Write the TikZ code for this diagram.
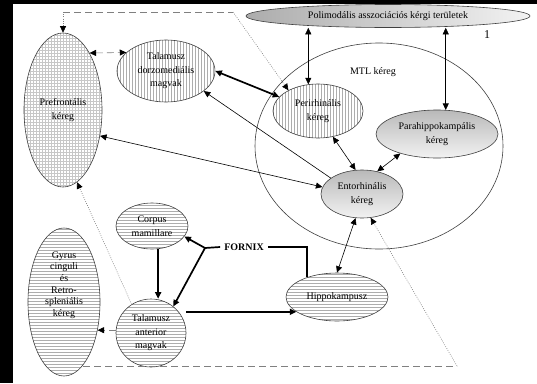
\documentclass[tikz,border=0pt]{standalone}
\usepackage{fontspec}
\setmainfont{Liberation Serif}
\usetikzlibrary{shapes.geometric,arrows.meta,patterns}

\tikzset{
  tip/.tip={Triangle[length=6.5pt,width=6pt,color=black,fill=black]},
  region/.style={ellipse, draw=black!75, line width=0.6pt, inner sep=0pt,
    align=center, font=\fontsize{10}{13.5}\selectfont},
  gridfill/.style={region, pattern=grid, pattern color=black!22},
  vfill/.style={region, pattern=vertical lines, pattern color=black!32},
  hfill/.style={region, pattern=horizontal lines, pattern color=black!32},
  greyfill/.style={region, top color=gray!55, bottom color=gray!10},
  polyfill/.style={region, left color=gray!65, right color=gray!10},
  thin link/.style={line width=0.6pt, black},
  thick link/.style={line width=1.7pt, black},
  dashline/.style={line width=0.6pt, black!50, dash pattern=on 7pt off 4pt},
  dotline/.style={line width=0.6pt, black!50, dash pattern=on 0.8pt off 1.4pt},
  plain/.style={font=\fontsize{10}{13.5}\selectfont, inner sep=0pt, align=center}
}

\begin{document}
\begin{tikzpicture}[x=1pt, y=-1pt]
% frame
\fill[black] (0,0) rectangle (537,383);
\fill[white] (13,4) rectangle (537,383);
\useasboundingbox (0,0) rectangle (537,383);

% medial temporal lobe outline
\node[ellipse, draw=black!75, line width=0.6pt, minimum width=248pt, minimum height=206pt,
      inner sep=0pt] (mtl) at (379,146) {};
\node[plain] (mtltxt) at (373,72) {MTL kéreg};
\node[plain, font=\fontsize{12}{14}\selectfont] (num) at (487,35) {1};

% regions
\node[polyfill, minimum width=284pt, minimum height=23pt] (poly) at (388,16)
  {Polimodális asszociációs kérgi területek};
\node[gridfill, minimum width=78pt, minimum height=154pt] (pfc) at (63,110)
  {Prefrontális\\kéreg};
\node[vfill, minimum width=98pt, minimum height=62pt] (dm) at (166,71)
  {Talamusz\\dorzomediális\\magvak};
\node[vfill, minimum width=90pt, minimum height=54pt] (peri) at (318,111)
  {Perirhinális\\kéreg};
\node[greyfill, minimum width=122pt, minimum height=48pt] (para) at (437,134)
  {Parahippokampális\\kéreg};
\node[greyfill, minimum width=82pt, minimum height=48pt] (ento) at (362,194)
  {Entorhinális\\kéreg};
\node[hfill, minimum width=72pt, minimum height=46pt] (corpus) at (152,226)
  {Corpus\\mamillare};
\node[hfill, minimum width=70pt, minimum height=68pt] (tant) at (151,333)
  {Talamusz\\anterior\\magvak};
\node[hfill, minimum width=72pt, minimum height=148pt] (gyrus) at (64,302) {};
\node[plain, font=\fontsize{10}{11.6}\selectfont] (gyrustxt) at (64,285)
  {Gyrus\\cinguli\\és\\Retro-\\spleniális\\kéreg};
\node[hfill, minimum width=102pt, minimum height=48pt] (hippo) at (337,297)
  {Hippokampusz};
\node[plain, font=\bfseries\fontsize{10}{12}\selectfont, inner sep=4pt] (fornix) at (244,247) {FORNIX};

% dashed and dotted outer loop
\coordinate (tl) at (63,12);
\coordinate (tr) at (233,12);
\coordinate (bl) at (83,366);
\coordinate (br) at (457,366);
\draw[dashline] (tl) -- (tr);
\draw[dotline,-tip] (tr) -- (peri.145);
\draw[dotline,-tip] (tl) -- (pfc.north);
\draw[dashline] (bl) -- (br);
\draw[dotline,-tip] (br) -- (ento.-70);
\draw[dashline,tip-tip] (pfc.65) -- (dm.155);
\draw[dashline,-tip] (tant.west |- gyrus.-40) -- (gyrus.-40);
\draw[dotline,-tip] (tant.124) -- (pfc.-79);

% cortical connections
\draw[thick link,tip-tip] (dm.east) -- (peri.160);
\draw[thin link,-tip] (ento.153) -- (dm.-28);
\draw[thin link,tip-tip] (pfc.-35) -- (ento.170);
\draw[thin link,tip-tip] (peri.110) -- (peri.110 |- poly.south);
\draw[thin link,tip-tip] (para.70) -- (para.70 |- poly.south);
\draw[thin link,tip-tip] (peri.-60) -- (ento.105);
\draw[thin link,tip-tip] (para.208) -- (ento.56);
\draw[thin link,tip-tip] (ento.255) -- (hippo.north);

% Papez circuit
\coordinate (fj) at (205,248);
\draw[thick link,-tip] (corpus.-75) -- (corpus.-75 |- tant.north);
\draw[thick link] (fornix.west) -- (fj);
\draw[thick link,-tip] (fj) -- (corpus.-18);
\draw[thick link,-tip] (fj) -- (tant.50);
\draw[thick link] (fornix.east) -| (hippo.147);
\draw[thick link,-tip] (hippo.200 -| tant.east) -- (hippo.200);
\end{tikzpicture}
\end{document}
